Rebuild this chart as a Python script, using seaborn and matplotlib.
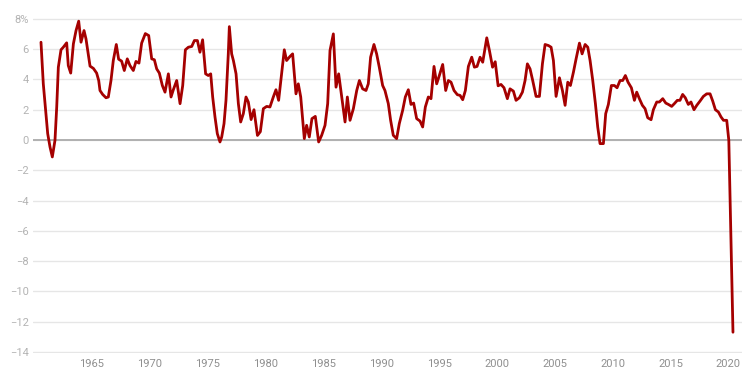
import matplotlib
matplotlib.use("Agg")
import matplotlib.pyplot as plt
import seaborn as sns
import pandas as pd
from matplotlib.ticker import FuncFormatter, FixedLocator

# ---- data ----
years = [
    1960.59, 1960.79, 1961.02, 1961.17, 1961.37, 1961.57, 1961.80, 1961.95, 1962.09, 1962.32,
    1962.52, 1962.81, 1962.95, 1963.16, 1963.39, 1963.62, 1963.85, 1964.05, 1964.31, 1964.48,
    1964.63, 1964.83, 1965.12, 1965.40, 1965.58, 1965.69, 1965.92, 1966.21, 1966.41, 1966.64,
    1966.84, 1967.10, 1967.30, 1967.56, 1967.79, 1968.05, 1968.28, 1968.57, 1968.80, 1969.06,
    1969.29, 1969.61, 1969.90, 1970.16, 1970.39, 1970.59, 1970.82, 1971.08, 1971.31, 1971.60,
    1971.83, 1972.03, 1972.32, 1972.61, 1972.84, 1973.07, 1973.33, 1973.62, 1973.85, 1974.11,
    1974.33, 1974.56, 1974.82, 1975.05, 1975.26, 1975.43, 1975.63, 1975.83, 1976.06, 1976.21,
    1976.41, 1976.58, 1976.78, 1976.87, 1977.07, 1977.22, 1977.45, 1977.65, 1977.85, 1978.08,
    1978.31, 1978.51, 1978.75, 1979.00, 1979.30, 1979.55, 1979.81, 1980.10, 1980.38, 1980.67,
    1980.90, 1981.13, 1981.39, 1981.62, 1981.82, 1982.11, 1982.34, 1982.63, 1982.83, 1983.04,
    1983.35, 1983.55, 1983.78, 1984.01, 1984.30, 1984.59, 1984.85, 1985.14, 1985.37, 1985.57,
    1985.86, 1986.09, 1986.32, 1986.58, 1986.87, 1987.07, 1987.30, 1987.59, 1987.88, 1988.11,
    1988.39, 1988.68, 1988.88, 1989.08, 1989.37, 1989.60, 1989.83, 1990.12, 1990.32, 1990.61,
    1990.81, 1991.04, 1991.33, 1991.56, 1991.85, 1992.08, 1992.34, 1992.57, 1992.80, 1993.06,
    1993.35, 1993.58, 1993.81, 1994.07, 1994.30, 1994.56, 1994.79, 1995.02, 1995.31, 1995.57,
    1995.80, 1996.03, 1996.29, 1996.58, 1996.81, 1997.04, 1997.27, 1997.53, 1997.82, 1998.05,
    1998.28, 1998.54, 1998.77, 1999.12, 1999.35, 1999.62, 1999.85, 2000.10, 2000.35, 2000.61,
    2000.90, 2001.13, 2001.42, 2001.65, 2001.94, 2002.20, 2002.43, 2002.63, 2002.86, 2003.09,
    2003.38, 2003.67, 2003.93, 2004.16, 2004.45, 2004.68, 2004.88, 2005.11, 2005.40, 2005.66,
    2005.89, 2006.12, 2006.35, 2006.61, 2006.84, 2007.13, 2007.36, 2007.62, 2007.85, 2008.05,
    2008.28, 2008.51, 2008.71, 2008.91, 2009.20, 2009.40, 2009.63, 2009.89, 2010.15, 2010.38,
    2010.64, 2010.87, 2011.10, 2011.33, 2011.62, 2011.88, 2012.08, 2012.31, 2012.57, 2012.80,
    2013.03, 2013.32, 2013.52, 2013.81, 2014.04, 2014.33, 2014.59, 2014.82, 2015.10, 2015.33,
    2015.59, 2015.82, 2016.05, 2016.28, 2016.54, 2016.77, 2017.03, 2017.27, 2017.55, 2017.84,
    2018.13, 2018.42, 2018.65, 2018.88, 2019.14, 2019.37, 2019.58, 2019.86, 2020.04, 2020.40,
]
growth = [
    6.46, 3.71, 1.74, 0.42, -0.46, -1.12, -0.02, 2.18, 4.81, 5.96,
    6.13, 6.42, 4.92, 4.42, 6.35, 7.23, 7.85, 6.46, 7.23, 6.68,
    5.91, 4.88, 4.73, 4.42, 3.93, 3.27, 3.01, 2.79, 2.84, 3.93,
    5.25, 6.31, 5.34, 5.21, 4.59, 5.36, 4.92, 4.59, 5.19, 5.08,
    6.40, 7.03, 6.90, 5.36, 5.30, 4.70, 4.42, 3.60, 3.16, 4.37,
    2.84, 3.32, 3.93, 2.40, 3.60, 5.96, 6.13, 6.18, 6.57, 6.57,
    5.80, 6.62, 4.37, 4.26, 4.37, 2.84, 1.52, 0.42, -0.13, 0.20,
    1.08, 2.62, 5.69, 7.49, 5.69, 5.25, 4.37, 2.40, 1.19, 1.74,
    2.84, 2.51, 1.35, 2.00, 0.30, 0.55, 2.07, 2.22, 2.18, 2.84,
    3.32, 2.62, 4.37, 5.96, 5.25, 5.52, 5.69, 3.05, 3.71, 2.84,
    0.09, 0.97, 0.20, 1.41, 1.56, -0.13, 0.31, 0.97, 2.40, 5.91,
    7.01, 3.49, 4.37, 2.84, 1.19, 2.84, 1.30, 2.07, 3.27, 3.93,
    3.38, 3.27, 3.71, 5.47, 6.31, 5.69, 4.81, 3.60, 3.27, 2.40,
    1.30, 0.31, 0.09, 1.08, 1.96, 2.84, 3.32, 2.35, 2.44, 1.41,
    1.25, 0.86, 2.18, 2.84, 2.73, 4.86, 3.71, 4.26, 4.99, 3.27,
    3.93, 3.82, 3.27, 2.99, 2.95, 2.66, 3.27, 4.86, 5.47, 4.81,
    4.86, 5.47, 5.14, 6.75, 5.91, 4.81, 5.17, 3.58, 3.67, 3.45,
    2.73, 3.38, 3.23, 2.62, 2.79, 3.16, 3.93, 5.03, 4.70, 3.93,
    2.88, 2.88, 5.03, 6.31, 6.24, 6.13, 5.25, 2.88, 4.11, 3.27,
    2.29, 3.82, 3.60, 4.48, 5.36, 6.40, 5.69, 6.31, 6.13, 5.25,
    3.93, 2.40, 0.86, -0.24, -0.24, 1.74, 2.35, 3.60, 3.60, 3.45,
    3.93, 3.93, 4.26, 3.82, 3.45, 2.62, 3.16, 2.73, 2.29, 2.07,
    1.47, 1.34, 2.00, 2.51, 2.51, 2.73, 2.44, 2.35, 2.22, 2.40,
    2.62, 2.62, 3.01, 2.79, 2.35, 2.51, 2.00, 2.29, 2.57, 2.88,
    3.05, 3.05, 2.57, 2.00, 1.85, 1.52, 1.30, 1.30, -0.02, -12.70,
]
x_ticks = [1965, 1970, 1975, 1980, 1985, 1990, 1995, 2000, 2005, 2010, 2015, 2020]
y_ticks = [-14, -12, -10, -8, -6, -4, -2, 0, 2, 4, 6, 8]

df = pd.DataFrame({"year": years, "growth": growth})

# ---- style ----
sns.set_theme(style="white")
plt.rcParams["font.family"] = ["Roboto", "DejaVu Sans"]

fig = plt.figure(figsize=(7.54, 3.86), dpi=100)
ax = fig.add_axes([33 / 754, 1 - 352.5 / 386, (742 - 33) / 754, (352.5 - 18.3) / 386])

sns.lineplot(data=df, x="year", y="growth", ax=ax, color="#a50000",
             linewidth=2.0, zorder=3, sort=False)

ax.set_xlim(1959.90, 2021.18)
ax.set_ylim(-14.04, 8.04)

ax.yaxis.set_major_locator(FixedLocator(y_ticks))
ax.xaxis.set_major_locator(FixedLocator(x_ticks))

def yfmt(v, pos):
    v = int(round(v))
    s = str(abs(v))
    if v < 0:
        s = "\u2212" + s
    if v == max(y_ticks):
        s += "%"
    return s

ax.yaxis.set_major_formatter(FuncFormatter(yfmt))
ax.xaxis.set_major_formatter(FuncFormatter(lambda v, p: f"{int(round(v))}"))

ax.grid(axis="y", color="#e6e6e6", linewidth=1.0, zorder=0)
ax.grid(axis="x", visible=False)
ax.axhline(0, color="#b0b0b0", linewidth=1.4, zorder=2)

for s in ax.spines.values():
    s.set_visible(False)

ax.tick_params(axis="y", length=0, pad=3, labelsize=8.0, labelcolor="#b3b3b3")
ax.tick_params(axis="x", length=0, pad=5, labelsize=8.0, labelcolor="#8f8f8f")
ax.set_xlabel("")
ax.set_ylabel("")

fig.savefig("out.png", dpi=100, facecolor="white")
